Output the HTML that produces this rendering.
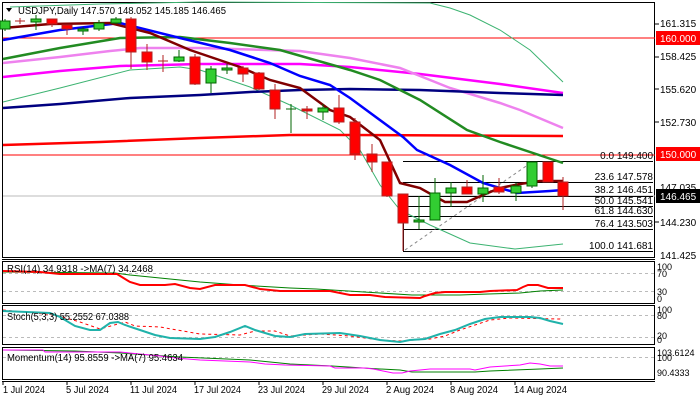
<!DOCTYPE html>
<html><head><meta charset="utf-8"><style>
html,body{margin:0;padding:0;background:#fff;}
svg{display:block;font-family:"Liberation Sans",sans-serif;font-size:10px;}
</style></head><body>
<svg width="700" height="400" viewBox="0 0 700 400" xmlns="http://www.w3.org/2000/svg">
<rect width="700" height="400" fill="#fff"/>
<rect x="2.5" y="2.5" width="652" height="255" fill="none" stroke="#000"/>
<line x1="2" y1="259.5" x2="655" y2="259.5" stroke="#000"/>
<rect x="2.5" y="261.5" width="652" height="42" fill="none" stroke="#000"/>
<rect x="2.5" y="305.5" width="652" height="39" fill="none" stroke="#000"/>
<rect x="2.5" y="347.5" width="652" height="32" fill="none" stroke="#000"/>
<line x1="2" y1="381.5" x2="655" y2="381.5" stroke="#000"/>

<line x1="3" y1="38" x2="655" y2="38" stroke="#f00"/>
<line x1="3" y1="155" x2="655" y2="155" stroke="#f00"/>
<line x1="3" y1="196" x2="655" y2="196" stroke="#bbb"/>

<g stroke="#000" stroke-width="1">
<line x1="403" y1="161.5" x2="653" y2="161.5"/>
<line x1="403" y1="182.5" x2="653" y2="182.5"/>
<line x1="403" y1="196.5" x2="653" y2="196.5"/>
<line x1="403" y1="206.5" x2="653" y2="206.5"/>
<line x1="403" y1="216.5" x2="653" y2="216.5"/>
<line x1="403" y1="229.5" x2="653" y2="229.5"/>
<line x1="403" y1="251.5" x2="653" y2="251.5"/>
<line x1="403.5" y1="196" x2="403.5" y2="251"/>
</g>
<line x1="405" y1="250" x2="532" y2="162" stroke="#888" stroke-dasharray="3,3"/>
<g font-size="10" text-anchor="end" fill="#000">
<text x="653" y="159">0.0 149.400</text>
<text x="653" y="180">23.6 147.578</text>
<text x="653" y="193">38.2 146.451</text>
<text x="653" y="204">50.0 145.541</text>
<text x="653" y="214">61.8 144.630</text>
<text x="653" y="227">76.4 143.503</text>
<text x="653" y="249">100.0 141.681</text>
</g>

<g fill="none">
<polyline stroke="#3cb371" stroke-width="1" points="10,7 100,4 200,2 430,3 450,8 470,15 500,30 530,50 563,82"/>
<polyline stroke="#3cb371" stroke-width="1" points="3,102 60,88 130,70 180,67 200,70 250,87 290,105 340,130 360,150 380,185 400,210 430,225 470,243 515,249 563,244"/>
<polyline stroke="#f0f" stroke-width="2.5" points="3,77 60,71 120,66 200,64 300,64 350,67 420,74 500,84 563,93"/>
<polyline stroke="#ee82ee" stroke-width="2.5" points="3,63 60,57 110,51 140,48 200,48 300,51 350,58 400,68 450,88 500,103 520,110 563,128"/>
<polyline stroke="#000080" stroke-width="2.5" points="3,108 60,104 130,98 200,95 250,92 300,90 350,89 420,90 500,93 563,95"/>
<polyline stroke="#f00" stroke-width="2.5" points="3,145 100,142 200,138 290,135 350,135 563,136"/>
<polyline stroke="#228b22" stroke-width="2.5" points="3,59 60,48 120,38 180,37 230,43 280,50 350,70 380,80 420,100 467,130 500,142 563,163"/>
<polyline stroke="#00f" stroke-width="2.5" points="3,40 60,30 120,23 180,38 230,50 270,63 300,76 330,85 350,98 403,137 417,150 450,165 483,183 517,193 550,191 563,190"/>
<polyline stroke="#800000" stroke-width="2.5" points="3,28 50,24 110,23 150,33 190,50 240,67 270,80 300,88 330,110 350,117 380,140 400,183 420,188 445,202 467,202 483,195 500,188 520,184 540,181 563,181"/>
</g>

<g stroke-width="1">
<g stroke="#006400" fill="#32cd32">
<line x1="5" y1="19" x2="5" y2="31"/><rect x="0" y="21" width="10" height="8"/>
<line x1="36" y1="15" x2="36" y2="30"/><rect x="31" y="19" width="10" height="3"/>
<line x1="83" y1="27" x2="83" y2="35"/><rect x="78" y="29" width="10" height="2"/>
<line x1="99" y1="20" x2="99" y2="31"/><rect x="94" y="23" width="10" height="6"/>
<line x1="116" y1="17" x2="116" y2="24"/><rect x="111" y="19" width="10" height="4"/>
<line x1="179" y1="50" x2="179" y2="62"/><rect x="174" y="57" width="10" height="4"/>
<line x1="211" y1="66" x2="211" y2="93"/><rect x="206" y="69" width="10" height="14"/>
<line x1="227" y1="64" x2="227" y2="74"/><rect x="222" y="68" width="10" height="2"/>
<line x1="291" y1="104" x2="291" y2="133"/><line x1="286" y1="109" x2="296" y2="109"/>
<line x1="323" y1="104" x2="323" y2="120"/><rect x="318" y="108" width="10" height="4"/>
<line x1="419" y1="196" x2="419" y2="229"/><rect x="414" y="220" width="10" height="2"/>
<line x1="435" y1="178" x2="435" y2="220"/><rect x="430" y="193" width="10" height="27"/>
<line x1="451" y1="182" x2="451" y2="207"/><rect x="446" y="188" width="10" height="5"/>
<line x1="483" y1="175" x2="483" y2="202"/><rect x="478" y="188" width="10" height="6"/>
<line x1="516" y1="183" x2="516" y2="201"/><rect x="511" y="186" width="10" height="7"/>
<line x1="532" y1="162" x2="532" y2="188"/><rect x="527" y="162" width="10" height="24"/>
</g>
<g stroke="#b22222" fill="#f00">
<line x1="20" y1="18" x2="20" y2="24"/><line x1="15" y1="21" x2="25" y2="21"/>
<line x1="52" y1="19" x2="52" y2="27"/><rect x="47" y="19" width="10" height="5"/>
<line x1="67" y1="25" x2="67" y2="35"/><rect x="62" y="25" width="10" height="4"/>
<line x1="131" y1="17" x2="131" y2="69"/><rect x="126" y="19" width="10" height="33"/>
<line x1="147" y1="44" x2="147" y2="70"/><rect x="142" y="52" width="10" height="10"/>
<line x1="163" y1="55" x2="163" y2="72"/><line x1="158" y1="61" x2="168" y2="61"/>
<line x1="195" y1="54" x2="195" y2="85"/><rect x="190" y="57" width="10" height="27"/>
<line x1="243" y1="66" x2="243" y2="82"/><rect x="238" y="68" width="10" height="6"/>
<line x1="259" y1="72" x2="259" y2="90"/><rect x="254" y="73" width="10" height="16"/>
<line x1="275" y1="84" x2="275" y2="119"/><rect x="270" y="90" width="10" height="19"/>
<line x1="307" y1="106" x2="307" y2="119"/><rect x="302" y="109" width="10" height="2"/>
<line x1="339" y1="95" x2="339" y2="124"/><rect x="334" y="108" width="10" height="14"/>
<line x1="355" y1="118" x2="355" y2="160"/><rect x="350" y="122" width="10" height="32"/>
<line x1="372" y1="144" x2="372" y2="172"/><rect x="367" y="154" width="10" height="8"/>
<line x1="387" y1="162" x2="387" y2="197"/><rect x="382" y="162" width="10" height="34"/>
<line x1="403" y1="194" x2="403" y2="251"/><rect x="398" y="194" width="10" height="29"/>
<line x1="467" y1="180" x2="467" y2="194"/><rect x="462" y="187" width="10" height="7"/>
<line x1="499" y1="178" x2="499" y2="194"/><rect x="494" y="187" width="10" height="5"/>
<rect x="543" y="162" width="10" height="20"/>
<line x1="563" y1="177" x2="563" y2="210"/><rect x="558" y="182" width="10" height="14"/>
</g>
</g>

<polygon points="6,8 12,8 9,12" fill="#000"/>
<text x="18" y="14" fill="#000" textLength="208" lengthAdjust="spacingAndGlyphs">USDJPY,Daily  147.570 148.052 145.185 146.465</text>

<g fill="#000">
<line x1="655" y1="24" x2="659" y2="24" stroke="#000"/><text x="660" y="27">161.315</text>
<line x1="655" y1="57" x2="659" y2="57" stroke="#000"/><text x="660" y="60">158.425</text>
<line x1="655" y1="89" x2="659" y2="89" stroke="#000"/><text x="660" y="93">155.620</text>
<line x1="655" y1="122" x2="659" y2="122" stroke="#000"/><text x="660" y="126">152.730</text>
<text x="660" y="191">147.035</text>
<line x1="655" y1="222" x2="659" y2="222" stroke="#000"/><text x="660" y="226">144.230</text>
<text x="660" y="259">141.425</text>
</g>
<rect x="656" y="31" width="44" height="14" fill="#f00"/><text x="660" y="42" fill="#fff">160.000</text>
<rect x="656" y="147" width="44" height="14" fill="#f00"/><text x="660" y="158" fill="#fff">150.000</text>
<rect x="656" y="189" width="44" height="14" fill="#000"/><text x="660" y="200" fill="#fff">146.465</text>

<!-- RSI -->
<line x1="3" y1="273.5" x2="654" y2="273.5" stroke="#bbb" stroke-dasharray="3,3"/>
<line x1="3" y1="291.5" x2="654" y2="291.5" stroke="#bbb" stroke-dasharray="3,3"/>
<polyline fill="none" stroke="#008000" stroke-width="1" points="3,272 115,273 130,275 160,278 200,282 240,285 290,288 316,289 348,291 364,292 412,295 460,295 488,294 520,293 540,291 563,290"/>
<polyline fill="none" stroke="#f00" stroke-width="2" points="3,271 40,272 60,274 117,274 130,282 140,285 165,285 175,284 190,288 200,289 215,285 245,285 260,289 280,291 330,291 340,293 350,295 370,295 385,297 420,298 425,296 435,293 445,292 480,292 490,291 517,290 523,287 528,285 538,285 548,288 563,288"/>
<text x="7" y="272" fill="#000" textLength="146" lengthAdjust="spacingAndGlyphs">RSI(14) 34.9318  ->MA(7) 34.2468</text>
<g fill="#000" font-size="9"><text x="657" y="270">100</text><text x="657" y="277">70</text><text x="657" y="295">30</text><text x="657" y="302">0</text></g>

<!-- Stoch -->
<line x1="3" y1="315.5" x2="654" y2="315.5" stroke="#bbb" stroke-dasharray="3,3"/>
<line x1="3" y1="337.5" x2="654" y2="337.5" stroke="#bbb" stroke-dasharray="3,3"/>
<polyline fill="none" stroke="#f00" stroke-width="1" stroke-dasharray="3,3" points="3,310 55,315 80,322 100,329 125,322 135,326 160,327 200,334 240,335 255,331 275,331 290,336 320,334 350,336 380,340 400,341 430,339 445,336 460,330 475,325 490,320 500,319 510,318 560,319 563,320"/>
<polyline fill="none" stroke="#20b2aa" stroke-width="2" points="3,311 50,313 60,317 75,326 90,330 100,330 110,323 118,322 125,325 140,330 155,335 170,338 200,339 215,337 230,332 245,326 255,330 275,336 290,337 305,334 340,333 360,336 380,340 400,342 410,340 425,339 440,334 455,330 470,324 485,319 500,317 530,317 540,318 550,321 563,324"/>
<text x="7" y="320" fill="#000" textLength="122" lengthAdjust="spacingAndGlyphs">Stoch(5,3,3) 55.2552 67.0388</text>
<g fill="#000" font-size="9"><text x="657" y="313">100</text><text x="657" y="319">80</text><text x="657" y="339">20</text><text x="657" y="343">0</text></g>

<!-- Momentum -->
<line x1="3" y1="357.5" x2="654" y2="357.5" stroke="#bbb" stroke-dasharray="3,3"/>
<polyline fill="none" stroke="#008000" stroke-width="1" points="3,350 75,351 120,353 180,357 250,360 290,364 332,366 348,367 363,368 380,369 400,370 412,372 475,372 490,371 540,369 563,368"/>
<polyline fill="none" stroke="#f0f" stroke-width="1" points="3,350 43,350 45,352 120,352 160,356 175,358 200,360 250,362 265,364 285,365 330,366 335,368 365,368 373,369 383,371 393,373 402,373 410,371 420,370 430,369 470,369 475,370 480,369 490,367 505,366 520,365 530,363 540,364 550,366 563,366"/>
<text x="7" y="361" fill="#000" textLength="176" lengthAdjust="spacingAndGlyphs">Momentum(14) 95.8559  ->MA(7) 95.4634</text>
<g fill="#000" font-size="9"><text x="657" y="356">103.6124</text><text x="657" y="361">100</text><text x="657" y="376">90.4333</text></g>

<!-- date axis -->
<g stroke="#000">
<line x1="3" y1="381" x2="3" y2="385"/><line x1="67" y1="381" x2="67" y2="385"/><line x1="131" y1="381" x2="131" y2="385"/><line x1="195" y1="381" x2="195" y2="385"/><line x1="259" y1="381" x2="259" y2="385"/><line x1="323" y1="381" x2="323" y2="385"/><line x1="387" y1="381" x2="387" y2="385"/><line x1="451" y1="381" x2="451" y2="385"/><line x1="515" y1="381" x2="515" y2="385"/>
</g>
<g fill="#000">
<text x="3" y="393" textLength="42" lengthAdjust="spacingAndGlyphs">1 Jul 2024</text>
<text x="66" y="393" textLength="43" lengthAdjust="spacingAndGlyphs">5 Jul 2024</text>
<text x="130" y="393" textLength="47" lengthAdjust="spacingAndGlyphs">11 Jul 2024</text>
<text x="194" y="393" textLength="47" lengthAdjust="spacingAndGlyphs">17 Jul 2024</text>
<text x="258" y="393" textLength="47" lengthAdjust="spacingAndGlyphs">23 Jul 2024</text>
<text x="322" y="393" textLength="47" lengthAdjust="spacingAndGlyphs">29 Jul 2024</text>
<text x="386" y="393" textLength="48" lengthAdjust="spacingAndGlyphs">2 Aug 2024</text>
<text x="450" y="393" textLength="48" lengthAdjust="spacingAndGlyphs">8 Aug 2024</text>
<text x="514" y="393" textLength="53" lengthAdjust="spacingAndGlyphs">14 Aug 2024</text>
</g>
</svg>
</body></html>
